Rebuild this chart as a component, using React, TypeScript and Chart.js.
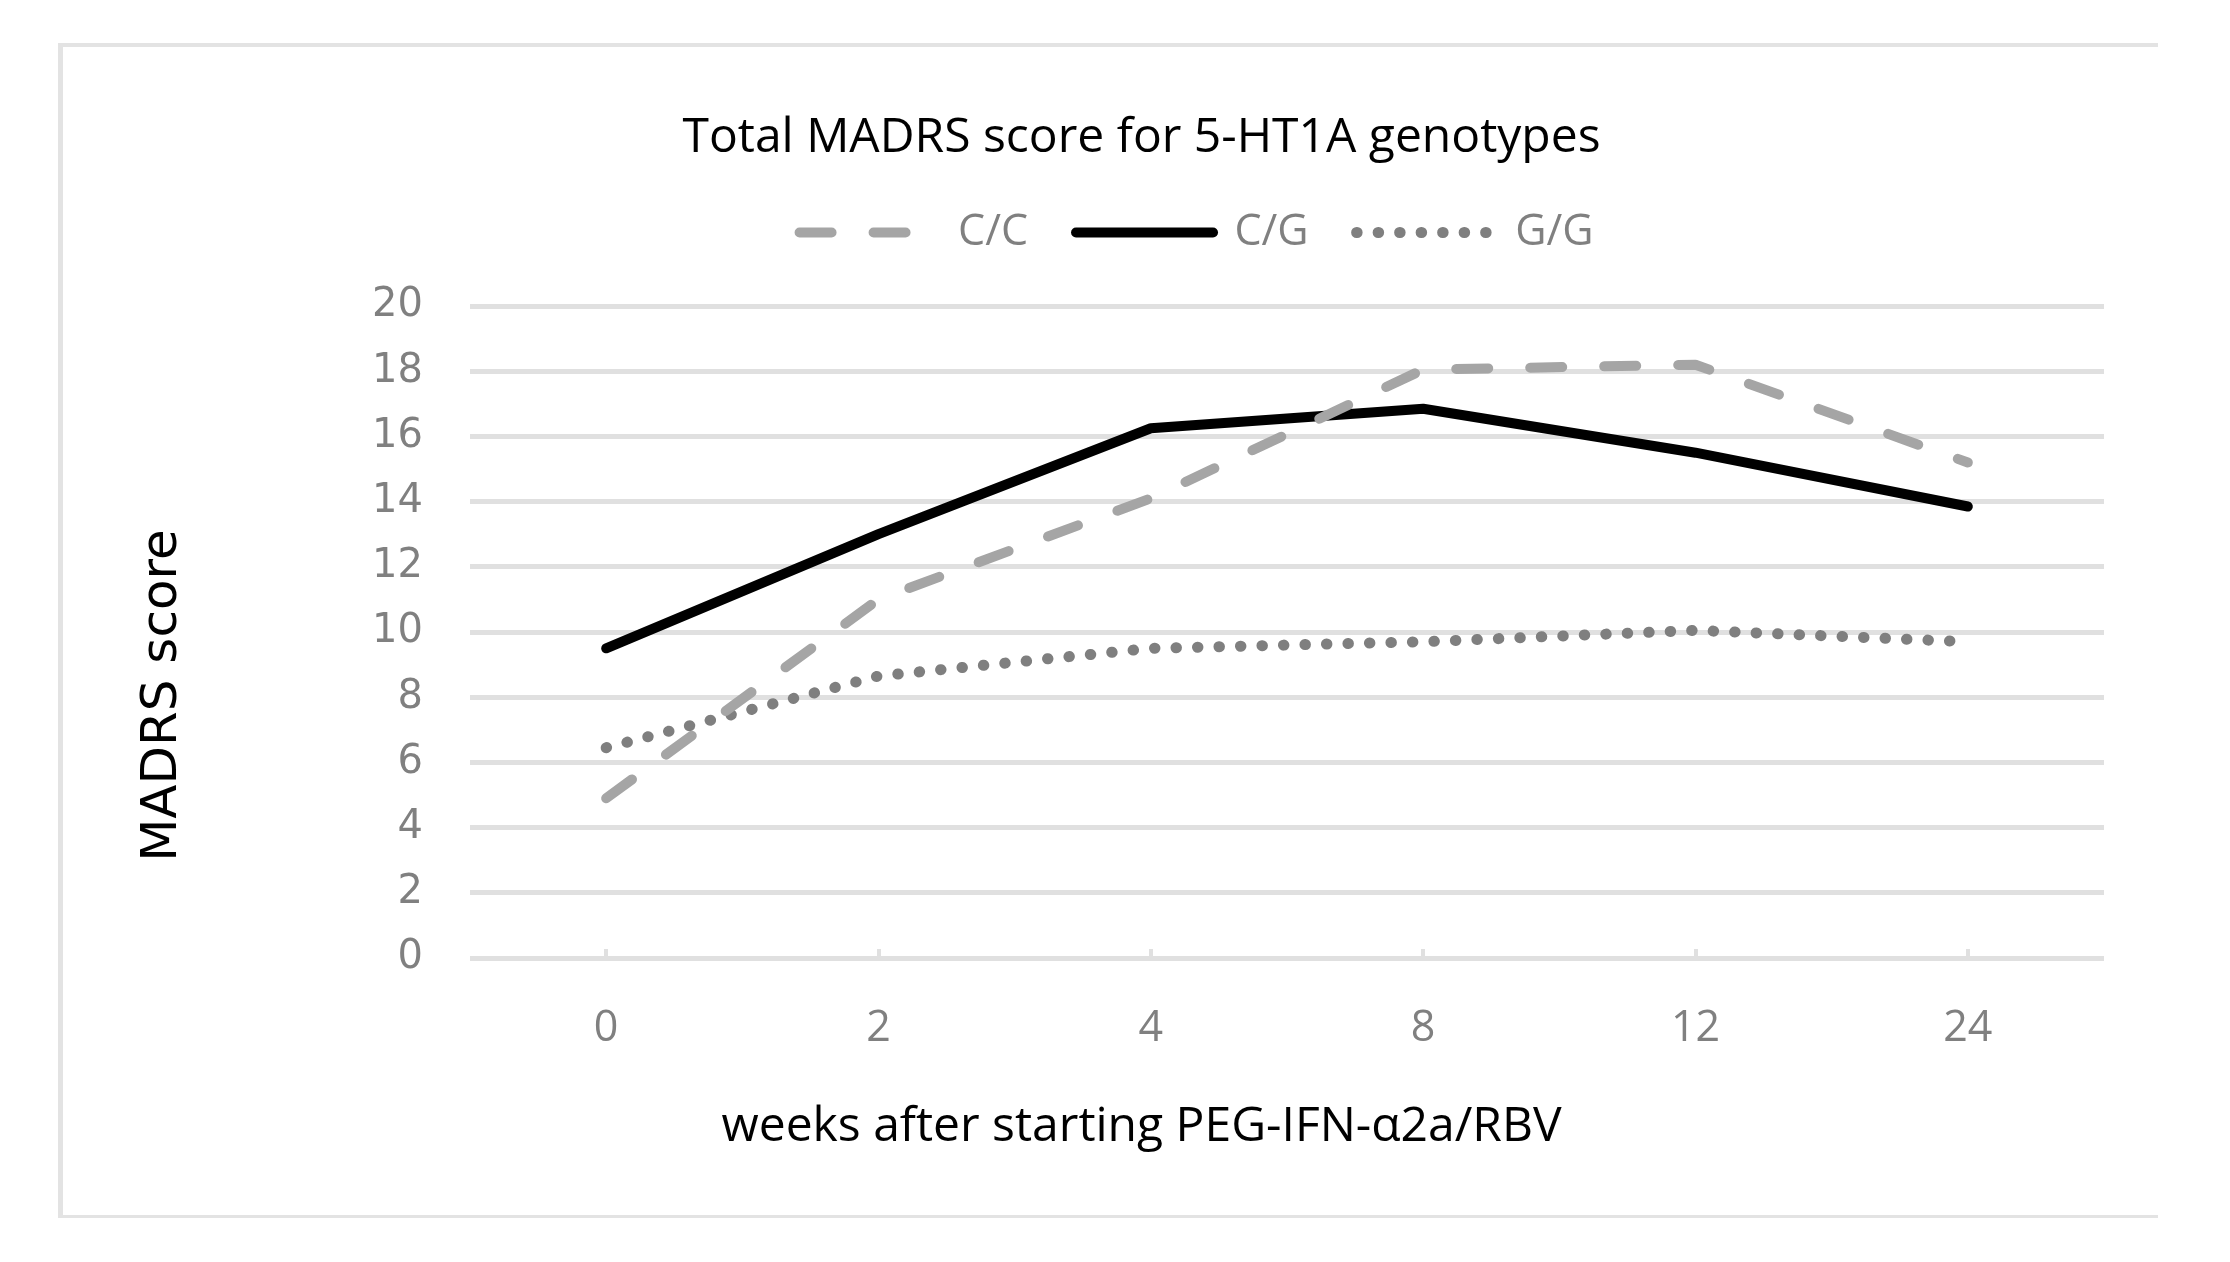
import React, { useEffect, useRef } from "react";
import { Chart, registerables } from "chart.js";

Chart.register(...registerables);

const chartTitle = "Total MADRS score for 5-HT1A genotypes";
const xAxisTitle = "weeks after starting PEG-IFN-\u03b12a/RBV";
const yAxisTitle = "MADRS score";

const categories = ["0", "2", "4", "8", "12", "24"];
const seriesNames = ["C/C", "C/G", "G/G"];
const ccValues = [4.9, 11.0, 14.1, 18.05, 18.2, 15.2];
const cgValues = [9.5, 13.0, 16.25, 16.85, 15.5, 13.85];
const ggValues = [6.45, 8.65, 9.5, 9.7, 10.05, 9.7];
const yMin = 0;
const yMax = 20;
const yStep = 2;

const LEFT = 53;
const W = 2230 - LEFT;
const H = 1262;

export default function App() {
  const ref = useRef<HTMLCanvasElement | null>(null);

  useEffect(() => {
    if (!ref.current) return;
    const shiftLegend = {
      id: "shiftLegend",
      afterLayout(chart: any) {
        const lg = chart.legend;
        if (lg) {
          lg.left += 55;
          lg.right += 55;
        }
      },
    };
    const chart = new Chart(ref.current, {
      type: "line",
      data: {
        labels: categories,
        datasets: [
          {
            label: seriesNames[0],
            data: ccValues,
            borderColor: "#a5a5a5",
            backgroundColor: "#a5a5a5",
            borderWidth: 10,
            borderDash: [32, 42],
            borderCapStyle: "round",
            borderJoinStyle: "round",
            pointRadius: 0,
            tension: 0,
          },
          {
            label: seriesNames[1],
            data: cgValues,
            borderColor: "#000000",
            backgroundColor: "#000000",
            borderWidth: 10,
            borderCapStyle: "round",
            borderJoinStyle: "round",
            pointRadius: 0,
            tension: 0,
          },
          {
            label: seriesNames[2],
            data: ggValues,
            borderColor: "#7f7f7f",
            backgroundColor: "#7f7f7f",
            borderWidth: 11,
            borderDash: [0.5, 21],
            borderCapStyle: "round",
            borderJoinStyle: "round",
            pointRadius: 0,
            tension: 0,
          },
        ],
      },
      options: {
        responsive: false,
        animation: false,
        devicePixelRatio: 1,
        layout: { padding: 0 },
        plugins: {
          tooltip: { enabled: false },
          title: {
            display: true,
            text: chartTitle,
            color: "#000000",
            font: { family: "'Open Sans', sans-serif", size: 48, weight: "normal", lineHeight: 1 },
            padding: { top: 114, bottom: 1 },
          },
          subtitle: {
            display: true,
            position: "bottom",
            text: xAxisTitle,
            color: "#000000",
            font: { family: "'Open Sans', sans-serif", size: 48, weight: "normal", lineHeight: 1 },
            padding: { top: 5, bottom: 111 },
          },
          legend: {
            display: true,
            position: "top",
            labels: {
              usePointStyle: true,
              pointStyleWidth: 137,
              padding: 48,
              color: "#808080",
              font: { family: "'Open Sans', sans-serif", size: 43 },
              generateLabels: (c: any) =>
                c.data.datasets.map((ds: any, i: number) => ({
                  text: ds.label,
                  fillStyle: ds.borderColor,
                  strokeStyle: ds.borderColor,
                  fontColor: "#808080",
                  lineWidth: ds.borderWidth,
                  lineDash: ds.borderDash || [],
                  lineCap: "round",
                  lineJoin: "round",
                  pointStyle: "line",
                  hidden: false,
                  datasetIndex: i,
                })),
            },
          },
        },
        scales: {
          x: {
            type: "category",
            offset: true,
            border: { display: false },
            grid: {
              display: true,
              drawOnChartArea: false,
              drawTicks: true,
              tickLength: -9,
              offset: false,
              color: "#e0e0e0",
              lineWidth: 4,
            },
            ticks: {
              color: "#808080",
              padding: 54,
              font: { family: "'Open Sans', sans-serif", size: 43 },
              maxRotation: 0,
              autoSkip: false,
            },
            afterFit: (scale: any) => {
              scale.height = 140;
            },
          },
          xPad: {
            type: "linear",
            axis: "x",
            position: "top",
            display: true,
            grid: { display: false },
            border: { display: false },
            ticks: { display: false },
            afterFit: (scale: any) => {
              scale.height = 42;
            },
          },
          y: {
            min: yMin,
            max: yMax,
            border: { display: false },
            grid: { color: "#e0e0e0", lineWidth: 5, drawTicks: false },
            ticks: {
              stepSize: yStep,
              color: "#808080",
              padding: 47,
              font: { family: "'DejaVu Sans', sans-serif", size: 40 },
            },
            title: {
              display: true,
              text: yAxisTitle + "        ",
              color: "#000000",
              font: { family: "'DejaVu Sans', sans-serif", size: 50, lineHeight: 1 },
              padding: { top: 85, bottom: 0 },
            },
            afterFit: (scale: any) => {
              scale.width = 470 - LEFT;
            },
          },
          yPad: {
            type: "linear",
            axis: "y",
            position: "right",
            display: true,
            grid: { display: false },
            border: { display: false },
            ticks: { display: false },
            afterFit: (scale: any) => {
              scale.width = 126;
            },
          },
        },
      },
      plugins: [shiftLegend],
    } as any);
    return () => chart.destroy();
  }, []);

  return (
    <div style={{ position: "absolute", left: 0, top: 0, width: 2230, height: 1262, overflow: "hidden", background: "#ffffff" }}>
      <div
        style={{
          position: "absolute",
          left: 58,
          top: 43,
          width: 2095,
          height: 1168,
          borderLeft: "5px solid #e3e3e3",
          borderTop: "4px solid #e3e3e3",
          borderBottom: "3px solid #e3e3e3",
        }}
      />
      <canvas
        ref={ref}
        width={W}
        height={H}
        style={{ position: "absolute", left: LEFT, top: 0, width: W, height: H }}
      />
    </div>
  );
}
